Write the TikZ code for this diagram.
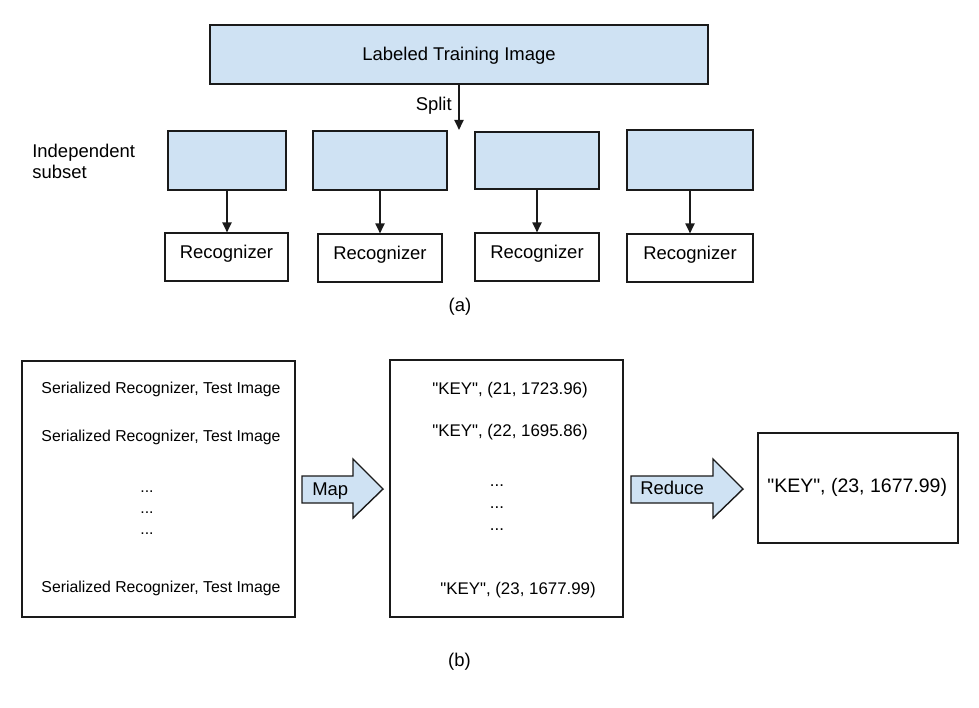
\documentclass[tikz,border=0pt]{standalone}
\usepackage{fontspec}
\setmainfont{Liberation Sans}
\usetikzlibrary{arrows.meta}
\definecolor{boxblue}{HTML}{CFE2F3}
\definecolor{ink}{HTML}{1A1A1A}
\newcommand{\dq}{\textquotedbl}
\tikzset{
    txt/.style     = {inner sep=0pt, font=\fontsize{10.5}{12}\selectfont, anchor=base},
    subsetbox/.style = {draw=ink, line width=1pt, fill=boxblue, inner sep=0pt,
                        minimum height=1.18cm},
    recbox/.style  = {draw=ink, line width=0.6pt, inner sep=0pt, minimum height=0.96cm,
                      font=\fontsize{10.5}{12}\selectfont, text height=0.716em, text depth=0.5em},
    bigbox/.style  = {draw=ink, line width=1pt, inner sep=0pt},
    blockarrow/.style = {draw=ink, line width=0.8pt, fill=boxblue, line join=miter},
    flow/.style    = {-{Triangle[length=5.7pt, width=5.1pt]}, line width=1.1pt, draw=ink},
}
\begin{document}
\begin{tikzpicture}[x=0.02cm, y=-0.02cm]
    \useasboundingbox (0,0) rectangle (979,707);
    % (a) training
    \node [subsetbox, minimum width=9.96cm, font=\fontsize{10.5}{12}\selectfont,
           text height=0.716em, text depth=0pt] (train) at (459,54.5) {Labeled Training Image};
    \coordinate (splitend) at (459,130);
    \draw [flow] (train.south -| splitend) -- (splitend);
    \node [txt, anchor=base east] (split) at (452,110) {Split};
    \node [txt, anchor=base west] (indep) at (32,157) {Independent};
    \node [txt, anchor=base west] (subset) at (32,178) {subset};
    \node [subsetbox, minimum width=2.36cm] (sub1) at (227,160.5) {};
    \node [subsetbox, minimum width=2.68cm] (sub2) at (380,160.5) {};
    \node [subsetbox, minimum width=2.48cm, minimum height=1.14cm] (sub3) at (537,160.5) {};
    \node [subsetbox, minimum width=2.52cm, minimum height=1.2cm] (sub4) at (690,160) {};
    \node [recbox, minimum width=2.46cm] (rec1) at (226.5,257) {Recognizer};
    \node [recbox, minimum width=2.48cm] (rec2) at (380,258) {Recognizer};
    \node [recbox, minimum width=2.48cm] (rec3) at (537,257) {Recognizer};
    \node [recbox, minimum width=2.52cm] (rec4) at (690,258) {Recognizer};
    \foreach \i in {1,...,4}
        \draw [flow] (sub\i.south) -- (sub\i.south |- rec\i.north);
    \node [txt, anchor=center] (capa) at (460,307) {(a)};
    % (b) map and reduce
    \node [bigbox, minimum width=5.46cm, minimum height=5.12cm] (serial) at (158.5,489) {};
    \node [bigbox, minimum width=4.66cm, minimum height=5.14cm] (keys) at (506.5,488.5) {};
    \node [bigbox, minimum width=4cm, minimum height=2.2cm] (result) at (858,488) {};
    \begin{scope}[every node/.style={txt, font=\fontsize{9}{11}\selectfont}]
        \node (ser1) at (161,393) {Serialized Recognizer, Test Image};
        \node (ser2) at (161,441) {Serialized Recognizer, Test Image};
        \node (serdots1) at (147,492) {...};
        \node (serdots2) at (147,513) {...};
        \node (serdots3) at (147,534) {...};
        \node (ser3) at (161,592) {Serialized Recognizer, Test Image};
    \end{scope}
    \begin{scope}[every node/.style={txt, font=\fontsize{9.6}{11}\selectfont}]
        \node (key1) at (510,394) {\dq KEY\dq, (21, 1723.96)};
        \node (key2) at (510,436) {\dq KEY\dq, (22, 1695.86)};
        \node (keydots1) at (497,486) {...};
        \node (keydots2) at (497,508) {...};
        \node (keydots3) at (497,530) {...};
        \node (key3) at (518,594) {\dq KEY\dq, (23, 1677.99)};
    \end{scope}
    \node [txt, anchor=base west, font=\fontsize{11.1}{13}\selectfont] (best) at (767,492) {\dq KEY\dq, (23, 1677.99)};
    \draw [blockarrow] (302,476) -- (353,476) -- (353,459) -- (383,489) -- (353,518) -- (353,503) -- (302,503) -- cycle;
    \node [txt, anchor=base west] (map) at (312,495) {Map};
    \draw [blockarrow] (631,476) -- (713,476) -- (713,459) -- (743,489) -- (713,518) -- (713,503) -- (631,503) -- cycle;
    \node [txt, anchor=base west] (reduce) at (640,494) {Reduce};
    \node [txt, anchor=center] (capb) at (459.5,662) {(b)};
\end{tikzpicture}
\end{document}
